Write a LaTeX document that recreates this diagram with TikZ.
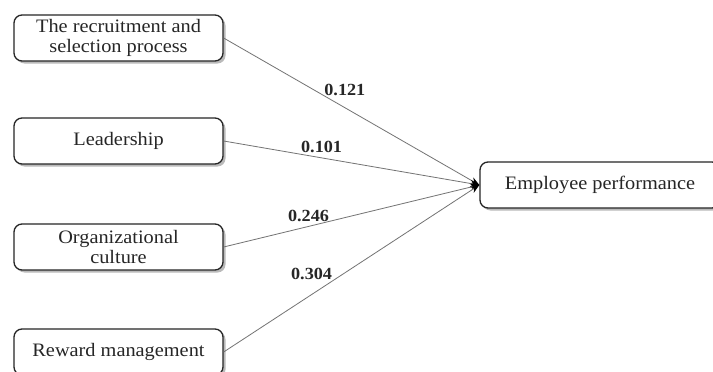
\documentclass[tikz,border=0pt]{standalone}
\usepackage{fontspec}
\setmainfont[FakeStretch=1.07]{Liberation Serif}
\usetikzlibrary{shadows,arrows.meta}
\begin{document}
\begin{tikzpicture}[x=1pt,y=-1pt,
  box/.style={draw=black!85, line width=1.3pt, rounded corners=8pt, fill=white,
    minimum width=209pt, minimum height=46pt, inner sep=2pt, align=center,
    font=\fontsize{19}{20}\selectfont, text=black!85,
    drop shadow={shadow xshift=2.5pt, shadow yshift=-2.5pt, fill=black!45, opacity=0.6}},
  link/.style={draw=black!55, line width=0.8pt, -{Stealth[length=9pt,width=7pt,color=black,fill=black]}},
  coef/.style={font=\fontsize{17}{17}\bfseries\selectfont, text=black!85, inner sep=0pt}]
\clip (0,0) rectangle (713,372);
\fill[white] (0,0) rectangle (713,372);
\node[box] (rs) at (118.5,38) {The recruitment and\\selection process};
\node[box] (ld) at (118.5,141) {Leadership};
\node[box] (oc) at (118.5,247) {Organizational\\culture};
\node[box] (rm) at (118.5,352) {Reward management};
\node[box, minimum width=240pt] (ep) at (600,185) {Employee performance};
\draw[link] (rs.east) -- node[coef, pos=0.474, yshift=18pt] {0.121} (ep.west);
\draw[link] (ld.east) -- node[coef, pos=0.383, yshift=11pt] {0.101} (ep.west);
\draw[link] (oc.east) -- node[coef, pos=0.332, yshift=10pt] {0.246} (ep.west);
\draw[link] (rm.east) -- node[coef, pos=0.344, yshift=21pt] {0.304} (ep.west);
\end{tikzpicture}
\end{document}
